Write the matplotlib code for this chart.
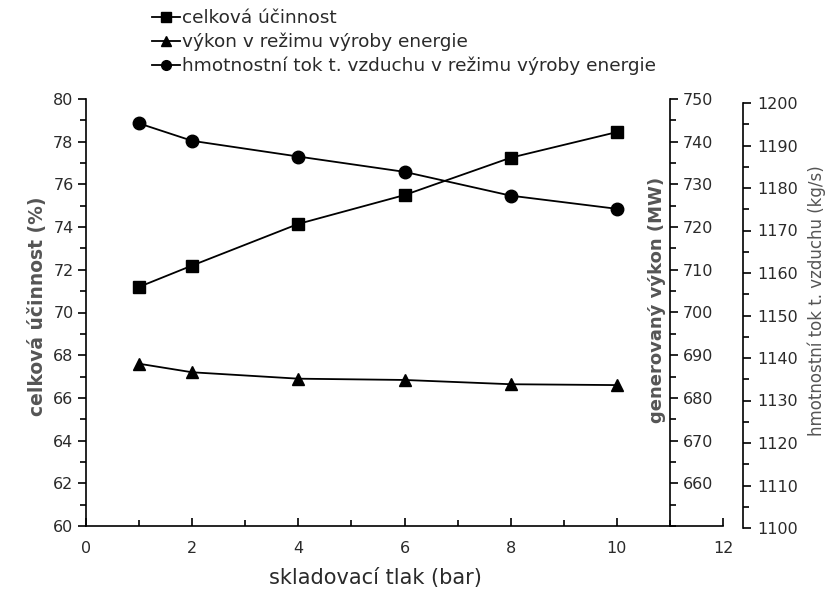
import numpy as np
import matplotlib
matplotlib.use('Agg')
import matplotlib.pyplot as plt
from matplotlib.ticker import MultipleLocator, FixedLocator

# skladovaci tlak (bar)
tlak = [1, 2, 4, 6, 8, 10]
# celkova ucinnost (%)
ucinnost = [71.2, 72.2, 74.15, 75.5, 77.25, 78.45]
# vykon v rezimu vyroby energie (MW)
vykon = [688.0, 686.0, 684.5, 684.2, 683.2, 683.0]
# hmotnostni tok vzduchu (kg/s)
tok = [1195.2, 1191.1, 1187.4, 1183.8, 1178.2, 1175.1]

labels = ['celková účinnost',
          'výkon v režimu výroby energie',
          'hmotnostní tok t. vzduchu v režimu výroby energie']

plt.rcParams['font.family'] = 'DejaVu Sans'
txt = '#2a2a2a'
grey = '#555555'

W, H = 830, 595
fig = plt.figure(figsize=(W/100, H/100), dpi=100)

def box(l, t, r, b):
    return [l/W, 1-b/H, (r-l)/W, (b-t)/H]

ax = fig.add_axes(box(86, 99, 723, 526))
ax.set_xlim(0, 12)
ax.set_ylim(60, 80)
for s in ('top', 'right'):
    ax.spines[s].set_visible(False)
ax.xaxis.set_major_locator(MultipleLocator(2))
ax.xaxis.set_minor_locator(MultipleLocator(1))
ax.yaxis.set_major_locator(MultipleLocator(2))
ax.yaxis.set_minor_locator(MultipleLocator(1))
ax.tick_params(axis='x', which='both', direction='in', pad=11)
ax.tick_params(axis='x', which='major', length=6, width=1.2)
ax.tick_params(axis='x', which='minor', length=4, width=1.2)
ax.tick_params(axis='y', which='both', direction='out', pad=3)
ax.tick_params(axis='y', which='major', length=6, width=1.2)
ax.tick_params(axis='y', which='minor', length=4, width=1.2)
ax.tick_params(labelsize=11.5, labelcolor=txt)
for s in ('left', 'bottom'):
    ax.spines[s].set_linewidth(1.2)

# MW axis at x = 11
ax2 = ax.twinx()
ax2.set_ylim(650, 750)
for s in ('top', 'left', 'bottom'):
    ax2.spines[s].set_visible(False)
ax2.spines['right'].set_position(('axes', 11/12))
ax2.spines['right'].set_linewidth(1.2)
ax2.yaxis.set_major_locator(FixedLocator(np.arange(660, 751, 10)))
ax2.yaxis.set_minor_locator(MultipleLocator(5))
ax2.tick_params(axis='y', which='major', length=6, width=1.2, pad=3,
                labelsize=11.5, labelcolor=txt)
ax2.tick_params(axis='y', which='minor', length=4, width=1.2)

# kg/s axis, separate
ax3 = fig.add_axes(box(86, 103, 723, 528))
ax3.patch.set_visible(False)
ax3.set_xlim(0, 12)
ax3.set_ylim(1100, 1200)
for s in ('top', 'left', 'bottom'):
    ax3.spines[s].set_visible(False)
ax3.spines['right'].set_position(('axes', (743-86)/(723-86)))
ax3.spines['right'].set_linewidth(1.2)
ax3.set_xticks([])
ax3.yaxis.tick_right()
ax3.yaxis.set_major_locator(MultipleLocator(10))
ax3.yaxis.set_minor_locator(MultipleLocator(5))
ax3.tick_params(axis='y', which='major', length=6, width=1.2, pad=4,
                labelsize=11.5, labelcolor=txt)
ax3.tick_params(axis='y', which='minor', length=4, width=1.2)

l1, = ax.plot(tlak, ucinnost, 'k-', marker='s', ms=8.5, lw=1.3)
l2, = ax2.plot(tlak, vykon, 'k-', marker='^', ms=9, lw=1.3)
l3, = ax3.plot(tlak, tok, 'k-', marker='o', ms=9, lw=1.3)

fig.legend([l1, l2, l3], labels, loc='upper left',
           bbox_to_anchor=(145/W, 1-2/H), frameon=False, numpoints=1,
           handlelength=1.5, handletextpad=0.12, labelspacing=0.3,
           prop={'size': 13.3}, labelcolor=txt, borderaxespad=0)
for h in fig.legends[0].legend_handles:
    h.set_markersize(7)

fig.text(38/W, 1-306/H, 'celková účinnost (%)', rotation=90, ha='center',
         va='center', fontsize=13.5, fontweight='bold', color=grey)
fig.text(657/W, 1-300/H, 'generovaný výkon (MW)', rotation=90, ha='center',
         va='center', fontsize=13, fontweight='bold', color=grey)
fig.text(817/W, 1-301/H, 'hmotnostní tok t. vzduchu (kg/s)', rotation=90,
         ha='center', va='center', fontsize=12, color=grey)
fig.text(375/W, 1-578/H, 'skladovací tlak (bar)', ha='center', va='center',
         fontsize=15, color=txt)

fig.savefig('out.png', dpi=100)
